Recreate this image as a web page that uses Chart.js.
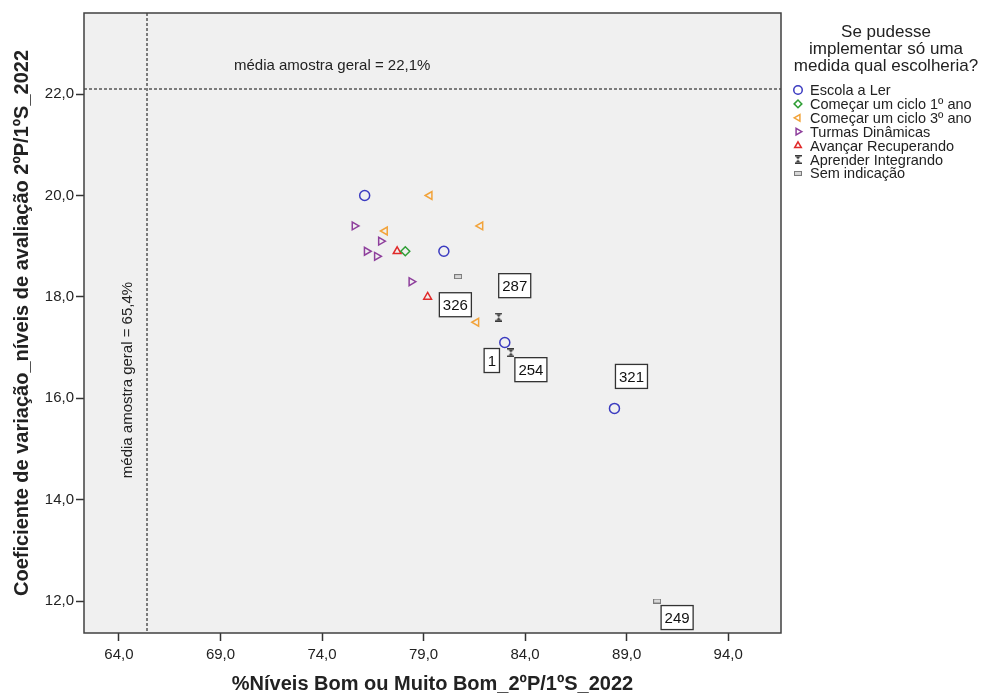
<!DOCTYPE html>
<html>
<head>
<meta charset="utf-8">
<script src="https://cdn.jsdelivr.net/npm/chart.js@4.4.1/dist/chart.umd.min.js"></script>
<style>
  html, body { margin: 0; padding: 0; background: #fff; }
  canvas { display: block; }
</style>
</head>
<body>
<canvas id="scatterChart" width="983" height="697"></canvas>
<script>
// --- data ---
const seriesNames = ['Escola a Ler', 'Começar um ciclo 1º ano', 'Começar um ciclo 3º ano',
    'Turmas Dinâmicas', 'Avançar Recuperando', 'Aprender Integrando', 'Sem indicação'];

const escolaLer = [{ x: 76.1, y: 20.0 }, { x: 80.0, y: 18.9 }, { x: 83.0, y: 17.1 }, { x: 88.4, y: 15.8 }];
const ciclo1 = [{ x: 78.1, y: 18.9 }];
const ciclo3 = [{ x: 79.3, y: 20.0 }, { x: 81.8, y: 19.4 }, { x: 77.1, y: 19.3 }, { x: 81.6, y: 17.5 }];
const turmas = [{ x: 75.6, y: 19.4 }, { x: 76.9, y: 19.1 }, { x: 76.2, y: 18.9 }, { x: 76.7, y: 18.8 }, { x: 78.4, y: 18.3 }];
const avancar = [{ x: 77.7, y: 18.9 }, { x: 79.2, y: 18.0 }];
const aprender = [{ x: 82.7, y: 17.6 }, { x: 83.3, y: 16.9 }];
const semIndicacao = [{ x: 80.7, y: 18.4 }, { x: 90.5, y: 12.0 }];

const xTicks = [64, 69, 74, 79, 84, 89, 94];
const yTicks = [12, 14, 16, 18, 20, 22];

const meanX = 65.4;   // média amostra geral (%)
const meanY = 22.1;   // média amostra geral (CV)

// case labels: which point they belong to (dataset, index)
const caseLabels = [
    { text: '287', ds: 5, i: 0 },
    { text: '326', ds: 2, i: 3 },
    { text: '1', ds: 0, i: 2 },
    { text: '254', ds: 5, i: 1 },
    { text: '321', ds: 0, i: 3 },
    { text: '249', ds: 6, i: 1 }
];
// pixel offsets of the label boxes from their points
const labelOffsets = [[16, -31.5], [-21, -17.5], [-13, 18], [20, 17], [17, -32], [20, 16.5]];

const FONT = '"Liberation Sans", Arial, sans-serif';
const TXT = '#222';

// custom markers
function makeHourglass() {
    const c = document.createElement('canvas');
    c.width = 7; c.height = 9;
    const g = c.getContext('2d');
    g.fillStyle = '#3a3a3a';
    g.fillRect(0, 0, 7, 1.5);
    g.fillRect(0, 7.5, 7, 1.5);
    g.beginPath();
    g.moveTo(1, 1.5); g.lineTo(6, 1.5); g.lineTo(3.5, 4.5); g.closePath(); g.fill();
    g.beginPath();
    g.moveTo(1, 7.5); g.lineTo(6, 7.5); g.lineTo(3.5, 4.5); g.closePath(); g.fill();
    return c;
}
function makeSmallRect() {
    const c = document.createElement('canvas');
    c.width = 8; c.height = 5;
    const g = c.getContext('2d');
    g.fillStyle = '#d8d8d8';
    g.fillRect(0, 0, 8, 5);
    g.strokeStyle = '#7a7a7a';
    g.lineWidth = 1;
    g.strokeRect(0.5, 0.5, 7, 4);
    return c;
}

const hourglass = makeHourglass();
const smallRect = makeSmallRect();

function ds(label, data, color, style, radius, rotation) {
    return {
        label: label,
        data: data,
        borderColor: color,
        backgroundColor: 'rgba(0,0,0,0)',
        pointStyle: style,
        pointRadius: radius,
        pointRotation: rotation || 0,
        pointBorderWidth: 1.5,
        pointHoverRadius: radius
    };
}

const datasets = [
    ds(seriesNames[0], escolaLer, '#3b3bc0', 'circle', 5),
    ds(seriesNames[1], ciclo1, '#2f9e35', 'rectRot', 4.5),
    ds(seriesNames[2], ciclo3, '#f2a33a', 'triangle', 4.5, -90),
    ds(seriesNames[3], turmas, '#8e3f9c', 'triangle', 4.5, 90),
    ds(seriesNames[4], avancar, '#e02a2a', 'triangle', 4.5),
    ds(seriesNames[5], aprender, '#3a3a3a', hourglass, 4),
    ds(seriesNames[6], semIndicacao, '#7a7a7a', smallRect, 4)
];

const fmt = v => v.toFixed(1).replace('.', ',');

const decorPlugin = {
    id: 'decor',
    beforeDraw(chart) {
        const { ctx, chartArea: a } = chart;
        ctx.save();
        ctx.fillStyle = '#fff';
        ctx.fillRect(0, 0, chart.width, chart.height);
        ctx.fillStyle = '#f0f0f0';
        ctx.fillRect(a.left, a.top, a.right - a.left, a.bottom - a.top);
        ctx.restore();
    },
    beforeDatasetsDraw(chart) {
        const { ctx, chartArea: a, scales: { x, y } } = chart;
        ctx.save();
        ctx.strokeStyle = '#7c7c7c';
        ctx.lineWidth = 2;
        ctx.setLineDash([3, 2]);
        const py = Math.round(y.getPixelForValue(meanY));
        const px = Math.round(x.getPixelForValue(meanX));
        ctx.beginPath();
        ctx.moveTo(a.left, py); ctx.lineTo(a.right, py);
        ctx.moveTo(px, a.top); ctx.lineTo(px, a.bottom);
        ctx.stroke();
        ctx.setLineDash([]);

        ctx.fillStyle = TXT;
        ctx.font = '15px ' + FONT;
        ctx.textAlign = 'center';
        ctx.textBaseline = 'middle';
        ctx.fillText('média amostra geral = ' + fmt(meanY) + '%', x.getPixelForValue(74.5), py - 23);

        ctx.translate(px - 19, y.getPixelForValue(16.36));
        ctx.rotate(-Math.PI / 2);
        ctx.fillText('média amostra geral = ' + fmt(meanX) + '%', 0, 0);
        ctx.restore();
    },
    afterDatasetsDraw(chart) {
        const { ctx, chartArea: a } = chart;
        ctx.save();
        // frame
        ctx.strokeStyle = '#404040';
        ctx.lineWidth = 1.5;
        ctx.strokeRect(a.left, a.top, a.right - a.left, a.bottom - a.top);

        // case labels
        ctx.font = '15px ' + FONT;
        ctx.textAlign = 'center';
        ctx.textBaseline = 'middle';
        caseLabels.forEach((l, k) => {
            const el = chart.getDatasetMeta(l.ds).data[l.i];
            const cx = el.x + labelOffsets[k][0];
            const cy = el.y + labelOffsets[k][1];
            const w = ctx.measureText(l.text).width + 7;
            const h = 24;
            ctx.fillStyle = '#fff';
            ctx.fillRect(cx - w / 2, cy - h / 2, w, h);
            ctx.strokeStyle = '#333';
            ctx.lineWidth = 1.3;
            ctx.strokeRect(cx - w / 2, cy - h / 2, w, h);
            ctx.fillStyle = '#111';
            ctx.fillText(l.text, cx, cy + 1);
        });
        ctx.restore();
    },
    afterDraw(chart) {
        const { ctx } = chart;
        ctx.save();
        ctx.fillStyle = TXT;
        ctx.textAlign = 'center';
        ctx.textBaseline = 'middle';
        ctx.font = '17px ' + FONT;
        ['Se pudesse', 'implementar só uma', 'medida qual escolheria?'].forEach((t, i) => {
            ctx.fillText(t, 886, 32 + i * 17);
        });
        ctx.font = '14.5px ' + FONT;
        ctx.textAlign = 'left';
        chart.data.datasets.forEach((d, i) => {
            const yy = 90 + i * 13.9;
            ctx.strokeStyle = d.borderColor;
            ctx.fillStyle = d.backgroundColor;
            ctx.lineWidth = 1.5;
            Chart.helpers.drawPoint(ctx, {
                pointStyle: d.pointStyle,
                radius: d.pointRadius * 0.85,
                rotation: d.pointRotation,
                borderWidth: 1.5
            }, 798, yy);
            ctx.fillStyle = TXT;
            ctx.fillText(d.label, 810, yy + 1);
        });
        ctx.restore();
    }
};

const axisCommon = {
    type: 'linear',
    border: { display: false },
    grid: { display: true, drawOnChartArea: false, drawTicks: true, tickLength: 8, color: '#333', tickWidth: 1.5 },
};

new Chart(document.getElementById('scatterChart'), {
    type: 'scatter',
    data: { datasets: datasets },
    options: {
        responsive: false,
        animation: false,
        devicePixelRatio: 1,
        layout: { padding: { top: 13, right: 202, left: 0, bottom: 0 } },
        plugins: { legend: { display: false }, tooltip: { enabled: false } },
        scales: {
            x: Object.assign({}, axisCommon, {
                min: 62.28,
                max: 96.6,
                afterBuildTicks: s => { s.ticks = xTicks.map(v => ({ value: v })); },
                afterFit: s => { s.height = 64; },
                ticks: { color: TXT, font: { family: FONT, size: 15 }, padding: 5, maxRotation: 0, callback: v => fmt(v) },
                title: {
                    display: true,
                    text: '%Níveis Bom ou Muito Bom_2ºP/1ºS_2022',
                    color: TXT,
                    font: { family: FONT, size: 20, weight: 'bold' },
                    padding: { top: 0, bottom: 1 }
                }
            }),
            y: Object.assign({}, axisCommon, {
                min: 11.37,
                max: 23.6,
                afterBuildTicks: s => { s.ticks = yTicks.map(v => ({ value: v })); },
                afterFit: s => { s.width = 84; },
                ticks: { color: TXT, font: { family: FONT, size: 15 }, padding: 2, callback: v => fmt(v) },
                title: {
                    display: true,
                    text: 'Coeficiente de variação_níveis de avaliação 2ºP/1ºS_2022',
                    color: TXT,
                    font: { family: FONT, size: 20, weight: 'bold' },
                    padding: { top: 10, bottom: 0 }
                }
            })
        }
    },
    plugins: [decorPlugin]
});
</script>
</body>
</html>
